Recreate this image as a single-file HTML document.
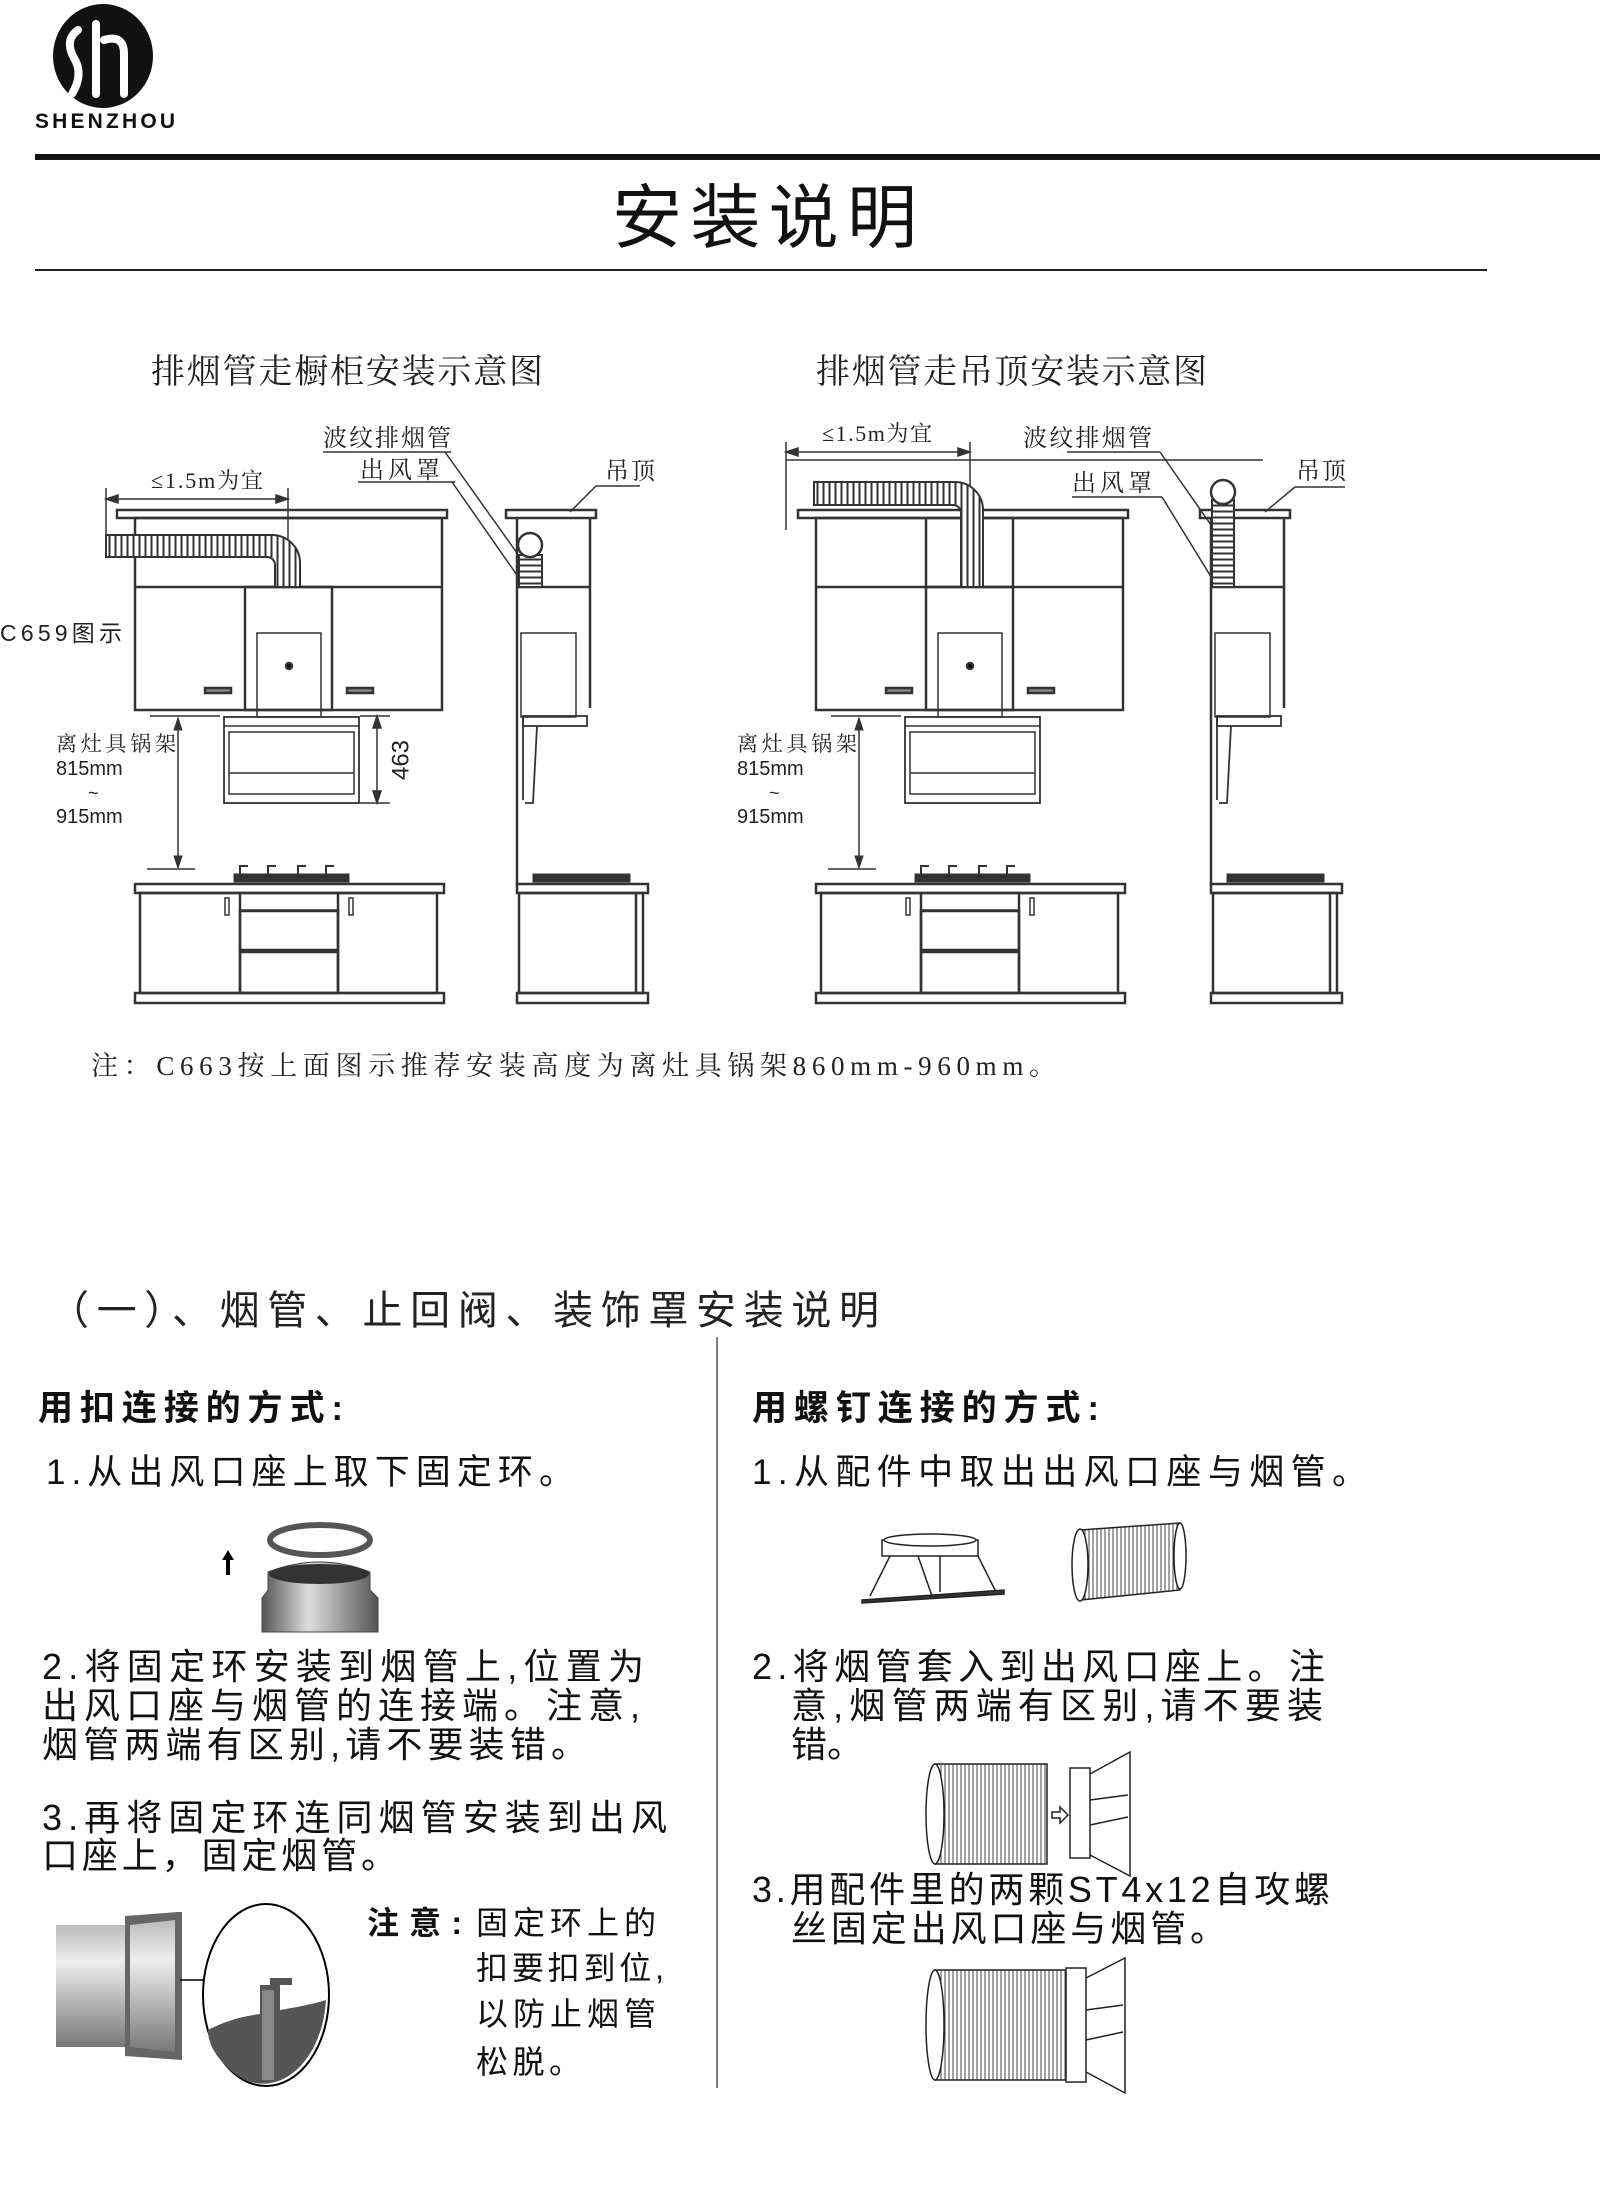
<!DOCTYPE html>
<html><head><meta charset="utf-8">
<style>
html,body{margin:0;padding:0;background:#fff;}
svg{display:block;}
.s{font-family:"Liberation Serif","Noto Serif CJK SC",serif;}
.a{font-family:"Liberation Sans","Noto Sans CJK SC",sans-serif;}
</style></head><body>
<svg width="1600" height="2199" viewBox="0 0 1600 2199" xmlns="http://www.w3.org/2000/svg">
<defs>
<pattern id="rib" width="6" height="10" patternUnits="userSpaceOnUse"><rect width="6" height="10" fill="#fff"/><line x1="1.5" y1="0" x2="1.5" y2="10" stroke="#333" stroke-width="2"/></pattern>
<pattern id="ribh" width="10" height="6" patternUnits="userSpaceOnUse"><rect width="10" height="6" fill="#fff"/><line x1="0" y1="1.5" x2="10" y2="1.5" stroke="#333" stroke-width="2"/></pattern>
<pattern id="rib2" width="4" height="10" patternUnits="userSpaceOnUse"><rect width="4" height="10" fill="#fff"/><line x1="1" y1="0" x2="1" y2="10" stroke="#444" stroke-width="1"/></pattern>
<linearGradient id="gy" x1="0" y1="0" x2="0" y2="1"><stop offset="0" stop-color="#bbb"/><stop offset="0.3" stop-color="#eee"/><stop offset="0.7" stop-color="#aaa"/><stop offset="1" stop-color="#777"/></linearGradient>
<linearGradient id="gx" x1="0" y1="0" x2="1" y2="0"><stop offset="0" stop-color="#555"/><stop offset="0.4" stop-color="#ddd"/><stop offset="1" stop-color="#555"/></linearGradient>
<g id="main" fill="none" stroke="#333" stroke-width="2.5">
 <rect x="117" y="510" width="330" height="8" fill="#fff"/>
 <rect x="135" y="518" width="307" height="192"/>
 <line x1="135" y1="587" x2="442" y2="587"/>
 <rect x="245" y="587" width="87" height="123"/>
 <rect x="257" y="633" width="64" height="84" stroke-width="1.5"/>
 <circle cx="289" cy="666" r="3" fill="#000"/>
 <rect x="205" y="688" width="26" height="5" fill="#888"/>
 <rect x="347" y="688" width="26" height="5" fill="#888"/>
 <rect x="224" y="717" width="135" height="86" stroke-width="1.8"/>
 <line x1="224" y1="726" x2="359" y2="726" stroke-width="1.5"/>
 <rect x="229" y="732" width="125" height="62" stroke-width="1.5"/>
 <line x1="229" y1="773" x2="354" y2="773" stroke-width="1.5"/>
 <line x1="178" y1="718" x2="178" y2="866" stroke-width="1.5"/>
 <path d="M174 730 L178 718 L182 730 Z M174 856 L178 868 L182 856Z" fill="#333" stroke-width="1"/>
 <line x1="150" y1="716" x2="220" y2="716" stroke-width="1.5"/>
 <line x1="147" y1="869" x2="195" y2="869" stroke-width="1.5"/>
 <rect x="234" y="874" width="115" height="8" fill="#333" stroke-width="1"/>
 <path d="M240 874 v-8 h8 M268 874 v-8 h8 M298 874 v-8 h8 M326 874 v-8 h8" stroke-width="2"/>
 <rect x="135" y="884" width="309" height="9"/>
 <rect x="140" y="893" width="297" height="100"/>
 <rect x="135" y="993" width="309" height="10"/>
 <line x1="240" y1="893" x2="240" y2="993"/><line x1="338" y1="893" x2="338" y2="993"/>
 <line x1="240" y1="910" x2="338" y2="910" stroke-width="1.5"/>
 <rect x="240" y="911" width="98" height="39" stroke-width="2.5"/>
 <rect x="240" y="952" width="98" height="41"/>
 <rect x="225" y="898" width="4" height="17" stroke-width="1.5"/>
 <rect x="349" y="898" width="4" height="17" stroke-width="1.5"/>
</g>
<g id="side" fill="none" stroke="#333" stroke-width="2.5">
 <rect x="506" y="510" width="90" height="8" fill="#fff"/>
 <line x1="517" y1="518" x2="517" y2="884"/>
 <line x1="590" y1="518" x2="590" y2="708"/>
 <line x1="517" y1="587" x2="590" y2="587"/>
 <rect x="521" y="633" width="55" height="84" stroke-width="1.5"/>
 <rect x="523" y="716" width="64" height="10" stroke-width="1.8"/>
 <path d="M523 716 L523 800 M537 726 L533 803 L525 803" stroke-width="1.8"/>
 <rect x="533" y="874" width="97" height="8" fill="#333" stroke-width="1"/>
 <rect x="517" y="884" width="131" height="9"/>
 <rect x="519" y="893" width="124" height="100"/>
 <line x1="636" y1="893" x2="636" y2="993"/>
 <rect x="517" y="993" width="131" height="10"/>
</g>
</defs>

<!-- logo -->
<ellipse cx="103" cy="56" rx="50" ry="52" fill="#111"/>
<path d="M78 30 q-14 10 -4 28 q10 16 -2 36 M96 24 v70 M104 40 q20 -6 20 14 v40" stroke="#fff" stroke-width="8" fill="none" stroke-linecap="round"/>
<text x="35" y="128" class="a" font-size="21" font-weight="bold" textLength="140" fill="#111">SHENZHOU</text>
<rect x="35" y="154" width="1565" height="6" fill="#111"/>
<text x="612" y="242" class="a" font-size="70" textLength="305" fill="#111">安装说明</text>
<rect x="35" y="269" width="1452" height="2" fill="#222"/>

<text x="151" y="383" class="s" font-size="34" textLength="392" fill="#222">排烟管走橱柜安装示意图</text>
<text x="816" y="383" class="s" font-size="34" textLength="391" fill="#222">排烟管走吊顶安装示意图</text>

<!-- left diagram -->
<use href="#main"/>
<use href="#side"/>
<g fill="none" stroke="#333" stroke-width="1.5">
 <line x1="106" y1="499" x2="288" y2="499"/>
 <path d="M106 499 l12 -4 v8z M288 499 l-12 -4 v8z" fill="#333"/>
 <line x1="106" y1="488" x2="106" y2="556"/>
 <line x1="288" y1="488" x2="288" y2="587"/>
 <path d="M106 535 H272 A28 28 0 0 1 300 563 V587 H275 V565 A8 8 0 0 0 268 557 H106Z" fill="url(#rib)" stroke-width="2"/>
 <line x1="323" y1="452" x2="451" y2="452"/>
 <line x1="445" y1="452" x2="522" y2="560"/>
 <line x1="358" y1="482" x2="455" y2="482"/>
 <line x1="452" y1="482" x2="519" y2="578"/>
 <line x1="596" y1="486" x2="640" y2="486"/>
 <line x1="596" y1="486" x2="570" y2="512"/>
 <rect x="519" y="555" width="23" height="32" fill="url(#ribh)" stroke-width="2"/>
 <circle cx="530" cy="545" r="12" fill="#fff" stroke-width="2.5"/>
 <line x1="377" y1="716" x2="377" y2="803"/>
 <path d="M373 728 L377 716 L381 728Z M373 791 L377 803 L381 791Z" fill="#333"/>
 <line x1="360" y1="716" x2="390" y2="716"/><line x1="360" y1="803" x2="390" y2="803"/>
</g>
<text x="151" y="488" class="s" font-size="22" textLength="112" fill="#222">≤1.5m为宜</text>
<text x="323" y="446" class="s" font-size="24" textLength="128" fill="#222">波纹排烟管</text>
<text x="360" y="478" class="s" font-size="24" textLength="80" fill="#222">出风罩</text>
<text x="605" y="479" class="s" font-size="24" textLength="50" fill="#222">吊顶</text>
<text x="0" y="641" class="a" font-size="23" textLength="122" fill="#222">C659图示</text>
<text x="402" y="760" class="a" font-size="24" fill="#222" text-anchor="middle" transform="rotate(-90 402 760)" dominant-baseline="middle">463</text>
<text x="56" y="751" class="s" font-size="21" textLength="120" fill="#222">离灶具锅架</text>
<text x="56" y="775" class="a" font-size="20" fill="#222">815mm</text>
<text x="88" y="799" class="a" font-size="18" fill="#222">~</text>
<text x="56" y="823" class="a" font-size="20" fill="#222">915mm</text>

<!-- right diagram -->
<g transform="translate(681 0)">
 <use href="#main"/>
</g>
<g transform="translate(694 0)"><use href="#side"/></g>
<g fill="none" stroke="#333" stroke-width="1.5">
 <line x1="926" y1="518" x2="926" y2="587" stroke-width="2.5"/>
 <line x1="1013" y1="518" x2="1013" y2="587" stroke-width="2.5"/>
 <line x1="786" y1="452" x2="970" y2="452"/>
 <path d="M786 452 l12 -4 v8z M970 452 l-12 -4 v8z" fill="#333"/>
 <line x1="786" y1="442" x2="786" y2="530"/>
 <line x1="970" y1="442" x2="970" y2="520"/>
 <line x1="786" y1="460" x2="1263" y2="460"/>
 <path d="M814 482 H955 A28 28 0 0 1 983 510 V587 H961 V513 A8 8 0 0 0 953 505 H814Z" fill="url(#rib)" stroke-width="2"/>
 <line x1="1067" y1="452" x2="1160" y2="452"/>
 <line x1="1160" y1="452" x2="1232" y2="555"/>
 <line x1="1072" y1="497" x2="1162" y2="497"/>
 <line x1="1162" y1="497" x2="1213" y2="580"/>
 <line x1="1295" y1="487" x2="1345" y2="487"/>
 <line x1="1295" y1="487" x2="1265" y2="512"/>
 <rect x="1212" y="500" width="22" height="87" fill="url(#ribh)" stroke-width="2"/>
 <circle cx="1223" cy="492" r="12" fill="#fff" stroke-width="2.5"/>
</g>
<text x="822" y="441" class="s" font-size="22" textLength="110" fill="#222">≤1.5m为宜</text>
<text x="1023" y="446" class="s" font-size="24" textLength="129" fill="#222">波纹排烟管</text>
<text x="1072" y="491" class="s" font-size="24" textLength="80" fill="#222">出风罩</text>
<text x="1296" y="479" class="s" font-size="24" textLength="50" fill="#222">吊顶</text>
<text x="737" y="751" class="s" font-size="21" textLength="120" fill="#222">离灶具锅架</text>
<text x="737" y="775" class="a" font-size="20" fill="#222">815mm</text>
<text x="769" y="799" class="a" font-size="18" fill="#222">~</text>
<text x="737" y="823" class="a" font-size="20" fill="#222">915mm</text>

<text x="91" y="1075" class="s" font-size="27" textLength="965" fill="#222">注：C663按上面图示推荐安装高度为离灶具锅架860mm-960mm。</text>

<!-- section -->
<text x="49" y="1324" class="a" font-size="40" textLength="830" fill="#222">（一）、烟管、止回阀、装饰罩安装说明</text>
<line x1="717" y1="1337" x2="717" y2="2088" stroke="#555" stroke-width="1.5"/>
<text x="38" y="1420" class="a" font-size="35" font-weight="bold" textLength="305" fill="#111">用扣连接的方式:</text>
<text x="46" y="1484" class="a" font-size="35" textLength="528" fill="#111">1.从出风口座上取下固定环。</text>
<!-- ring image -->
<ellipse cx="320" cy="1540" rx="50" ry="15" fill="none" stroke="#555" stroke-width="6"/>
<path d="M228 1575 v-18" stroke="#000" stroke-width="4"/><path d="M222 1560 l6 -10 l6 10z" fill="#000"/>
<path d="M262 1598 L268 1590 V1572 Q320 1552 370 1572 V1590 L378 1598 V1632 H262Z" fill="url(#gx)" stroke="#444"/>
<ellipse cx="319" cy="1574" rx="50" ry="10" fill="#333"/>
<text x="42" y="1679" class="a" font-size="36" textLength="602" fill="#111">2.将固定环安装到烟管上,位置为</text>
<text x="42" y="1718" class="a" font-size="36" textLength="598" fill="#111">出风口座与烟管的连接端。注意,</text>
<text x="42" y="1757" class="a" font-size="36" textLength="545" fill="#111">烟管两端有区别,请不要装错。</text>
<text x="42" y="1830" class="a" font-size="36" textLength="625" fill="#111">3.再将固定环连同烟管安装到出风</text>
<text x="42" y="1868" class="a" font-size="36" textLength="355" fill="#111">口座上，固定烟管。</text>
<!-- pipe image -->
<rect x="56" y="1925" width="125" height="122" fill="url(#gy)"/>
<path d="M125 1916 L178 1912 L182 1912 V2060 L125 2056 Z" fill="#666"/>
<path d="M130 1925 L175 1920 V2052 L130 2047Z" fill="url(#gy)"/>
<line x1="180" y1="1980" x2="215" y2="1980" stroke="#000" stroke-width="1.5"/>
<ellipse cx="266" cy="1995" rx="63" ry="91" fill="#fff" stroke="#000" stroke-width="2"/>
<path d="M208 2030 Q230 2018 260 2014 V1985 H270 V1978 H292 V1985 H280 V2010 Q310 2005 326 2000 A63 91 0 0 1 230 2070 Q208 2050 208 2030Z" fill="#555"/>
<path d="M262 1990 h12 v90 h-12z" fill="#888"/>
<text x="367" y="1934" class="a" font-size="32" font-weight="bold" textLength="95" fill="#111">注意:</text>
<text x="476" y="1934" class="a" font-size="32" textLength="180" fill="#111">固定环上的</text>
<text x="476" y="1979" class="a" font-size="32" textLength="188" fill="#111">扣要扣到位,</text>
<text x="476" y="2025" class="a" font-size="32" textLength="180" fill="#111">以防止烟管</text>
<text x="476" y="2073" class="a" font-size="32" textLength="105" fill="#111">松脱。</text>

<text x="752" y="1420" class="a" font-size="35" font-weight="bold" textLength="347" fill="#111">用螺钉连接的方式:</text>
<text x="752" y="1484" class="a" font-size="35" textLength="615" fill="#111">1.从配件中取出出风口座与烟管。</text>
<!-- base + tube -->
<g fill="none" stroke="#222" stroke-width="1.5">
 <path d="M882 1540 H978 V1556 H882Z" fill="#fff"/>
 <ellipse cx="930" cy="1540" rx="46" ry="6" fill="#fff"/>
 <path d="M890 1556 L870 1596 M978 1556 L996 1592 M918 1556 L932 1596 M940 1556 L940 1592"/>
 <path d="M862 1600 L1004 1590 V1594 L862 1603Z" fill="#333"/>
 <path d="M1080 1530 L1180 1523 L1180 1590 L1080 1600Z" fill="url(#rib2)"/>
 <ellipse cx="1080" cy="1565" rx="8" ry="36" fill="#fff"/>
 <ellipse cx="1180" cy="1556" rx="6" ry="33" fill="#fff"/>
</g>
<text x="752" y="1679" class="a" font-size="36" textLength="573" fill="#111">2.将烟管套入到出风口座上。注</text>
<text x="791" y="1718" class="a" font-size="36" textLength="532" fill="#111">意,烟管两端有区别,请不要装</text>
<text x="791" y="1757" class="a" font-size="36" fill="#111">错。</text>
<g fill="none" stroke="#222" stroke-width="1.5">
 <rect x="935" y="1764" width="112" height="100" fill="url(#rib2)"/>
 <ellipse cx="935" cy="1814" rx="9" ry="50" fill="#fff"/>
 <rect x="1070" y="1768" width="20" height="90" fill="#fff"/>
 <path d="M1090 1774 L1130 1752 V1876 L1090 1855 M1090 1800 L1128 1795 M1090 1825 L1128 1817"/>
 <path d="M1052 1812 h8 v-5 l8 8 l-8 8 v-5 h-8z" fill="#fff"/>
</g>
<text x="752" y="1902" class="a" font-size="36" textLength="578" fill="#111">3.用配件里的两颗ST4x12自攻螺</text>
<text x="791" y="1941" class="a" font-size="36" textLength="435" fill="#111">丝固定出风口座与烟管。</text>
<g fill="none" stroke="#222" stroke-width="1.5">
 <rect x="935" y="1970" width="150" height="110" fill="url(#rib2)"/>
 <rect x="1066" y="1968" width="20" height="114" fill="#fff"/>
 <ellipse cx="935" cy="2025" rx="9" ry="55" fill="#fff"/>
 <path d="M1086 1978 L1125 1958 V2093 L1086 2072 M1086 2010 L1123 2005 M1086 2040 L1123 2032"/>
</g>
</svg>
</body></html>
